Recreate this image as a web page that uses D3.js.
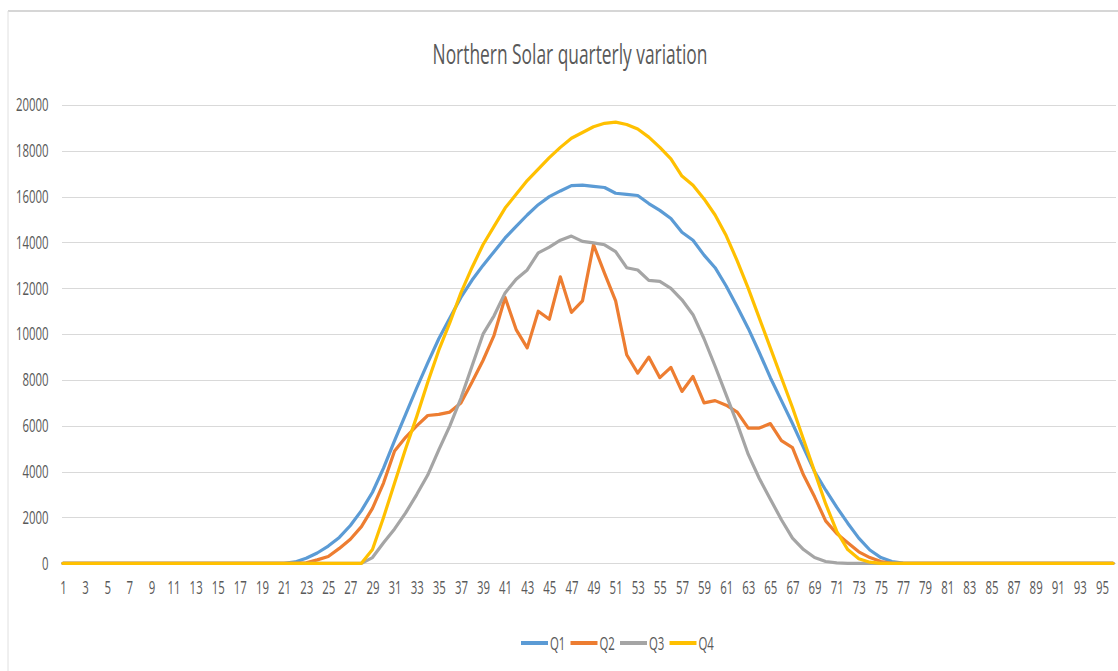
<!DOCTYPE html>
<html>
<head>
<meta charset="utf-8">
<script src="https://cdn.jsdelivr.net/npm/d3@7"></script>
<style>
  html, body { margin: 0; padding: 0; background: #fff; }
  svg { display: block; }
  .lbl { font-family: "Open Sans", "Noto Sans", sans-serif; fill: #595959; }
</style>
</head>
<body>
<svg id="chart" width="1118" height="671"></svg>
<script>
// Half-hour intervals of the day (1..96)
const categories = d3.range(1, 97);

// Output per interval for each quarter
const q1 = [0,0,0,0,0,0,0,0,0,0,0,0,0,0,0,0,0,0,0,0,0,
  60,220,450,750,1130,1650,2300,3100,4150,5350,6500,7650,8750,9800,10700,11600,12350,13000,13600,
  14200,14700,15200,15650,16000,16250,16480,16500,16450,16400,16150,16100,16050,15700,15400,15050,
  14450,14100,13450,12900,12100,11200,10250,9200,8100,7100,6100,5050,4000,3200,2450,1750,1100,580,250,80,10,
  0,0,0,0,0,0,0,0,0,0,0,0,0,0,0,0,0,0,0];
const q2 = [0,0,0,0,0,0,0,0,0,0,0,0,0,0,0,0,0,0,0,0,0,0,
  20,150,300,650,1050,1600,2400,3500,4900,5500,6000,6450,6500,6600,7000,7900,8850,9950,
  11600,10200,9400,11000,10650,12500,10950,11450,13900,12650,11450,9100,8300,9000,8100,8550,
  7500,8150,7000,7100,6900,6600,5900,5900,6100,5350,5050,3850,2900,1850,1300,900,500,250,80,
  0,0,0,0,0,0,0,0,0,0,0,0,0,0,0,0,0,0,0,0,0];
const q3 = [0,0,0,0,0,0,0,0,0,0,0,0,0,0,0,0,0,0,0,0,0,0,0,0,0,0,0,0,
  250,900,1500,2200,3000,3850,4950,6000,7200,8600,10000,10800,11800,12400,12800,13550,13800,14100,
  14280,14050,13980,13900,13600,12900,12800,12350,12300,12000,11500,10850,9800,8600,7350,6100,4750,
  3700,2800,1900,1100,600,250,80,20,
  0,0,0,0,0,0,0,0,0,0,0,0,0,0,0,0,0,0,0,0,0,0,0,0,0];
const q4 = [0,0,0,0,0,0,0,0,0,0,0,0,0,0,0,0,0,0,0,0,0,0,0,0,0,0,0,0,
  600,2000,3500,5000,6400,7900,9300,10500,11800,12900,13900,14700,15500,16100,16700,17200,17700,18150,
  18550,18800,19050,19200,19250,19150,18950,18600,18150,17650,16900,16500,15900,15200,14300,13200,12000,
  10700,9400,8100,6800,5400,4000,2600,1400,600,200,50,
  0,0,0,0,0,0,0,0,0,0,0,0,0,0,0,0,0,0,0,0,0,0];

const seriesNames = ["Q1", "Q2", "Q3", "Q4"];
const seriesColors = ["#5B9BD5", "#ED7D31", "#A5A5A5", "#FFC000"];
const yTicks = d3.range(0, 20001, 2000);
const xTickLabels = categories.filter(d => d % 2 === 1);
const title = "Northern Solar quarterly variation";

const seriesValues = [q1, q2, q3, q4];

// narrow, tall lettering used throughout the chart
const LABEL_SIZE = 19, LABEL_SX = 0.6;
const squeeze = sel => sel.attr("transform", `scale(${LABEL_SX},1)`);

const svg = d3.select("#chart");

// chart frame
svg.append("line").attr("x1", 8).attr("x2", 1118).attr("y1", 11).attr("y2", 11)
  .attr("stroke", "#d6d6d6").attr("stroke-width", 2);
svg.append("line").attr("x1", 8).attr("x2", 8).attr("y1", 11).attr("y2", 671)
  .attr("stroke", "#e0e0e0").attr("stroke-width", 1);

const plotLeft = 63, plotRight = 1113, plotTop = 105, plotBottom = 563.3;

const x = d3.scalePoint().domain(categories).range([plotLeft, plotRight]);
const y = d3.scaleLinear().domain([0, 20000]).range([plotBottom, plotTop]);

// title, condensed to its box width
const titleText = svg.append("text").attr("class", "lbl")
  .attr("text-anchor", "middle")
  .attr("font-size", 27)
  .text(title);
const titleW = titleText.node().getComputedTextLength();
titleText.attr("transform", `translate(570,64.3) scale(${275 / titleW},1)`);

// horizontal gridlines
svg.append("g").selectAll("line").data(yTicks).join("line")
  .attr("x1", plotLeft - 1).attr("x2", 1116)
  .attr("y1", d => Math.round(y(d)) + 0.5).attr("y2", d => Math.round(y(d)) + 0.5)
  .attr("stroke", "#d9d9d9").attr("stroke-width", 1.2);

// y axis labels
const yAxis = svg.append("g").attr("transform", "translate(48.5,0)")
  .call(d3.axisLeft(y).tickValues(yTicks).tickSize(0).tickPadding(0).tickFormat(d3.format("d")));
yAxis.select(".domain").remove();
yAxis.selectAll("text").attr("class", "lbl").attr("font-size", LABEL_SIZE)
  .attr("fill", "#595959").attr("dy", "0.3em").call(squeeze);

// x axis labels
const xAxis = svg.append("g").attr("transform", `translate(0,${plotBottom})`)
  .call(d3.axisBottom(x).tickValues(xTickLabels).tickSize(0).tickPadding(17));
xAxis.select(".domain").remove();
xAxis.selectAll("text").attr("class", "lbl").attr("font-size", LABEL_SIZE)
  .attr("fill", "#595959").call(squeeze);

// series lines
const line = d3.line().x((d, i) => x(categories[i])).y(d => y(d));
svg.append("g").selectAll("path").data(seriesValues).join("path")
  .attr("d", d => line(d))
  .attr("fill", "none")
  .attr("stroke", (d, i) => seriesColors[i])
  .attr("stroke-width", 3.2)
  .attr("stroke-linejoin", "round")
  .attr("stroke-linecap", "round");

// legend
const legend = svg.append("g").attr("transform", "translate(521,643)");
const item = legend.selectAll("g").data(seriesNames).join("g")
  .attr("transform", (d, i) => `translate(${i * 49.5},0)`);
item.append("line").attr("x1", 0).attr("x2", 27).attr("y1", 0).attr("y2", 0)
  .attr("stroke", (d, i) => seriesColors[i]).attr("stroke-width", 4);
item.append("g").attr("transform", "translate(29,6.5)")
  .append("text").attr("class", "lbl")
  .attr("font-size", LABEL_SIZE).text(d => d).call(squeeze);
</script>
</body>
</html>
